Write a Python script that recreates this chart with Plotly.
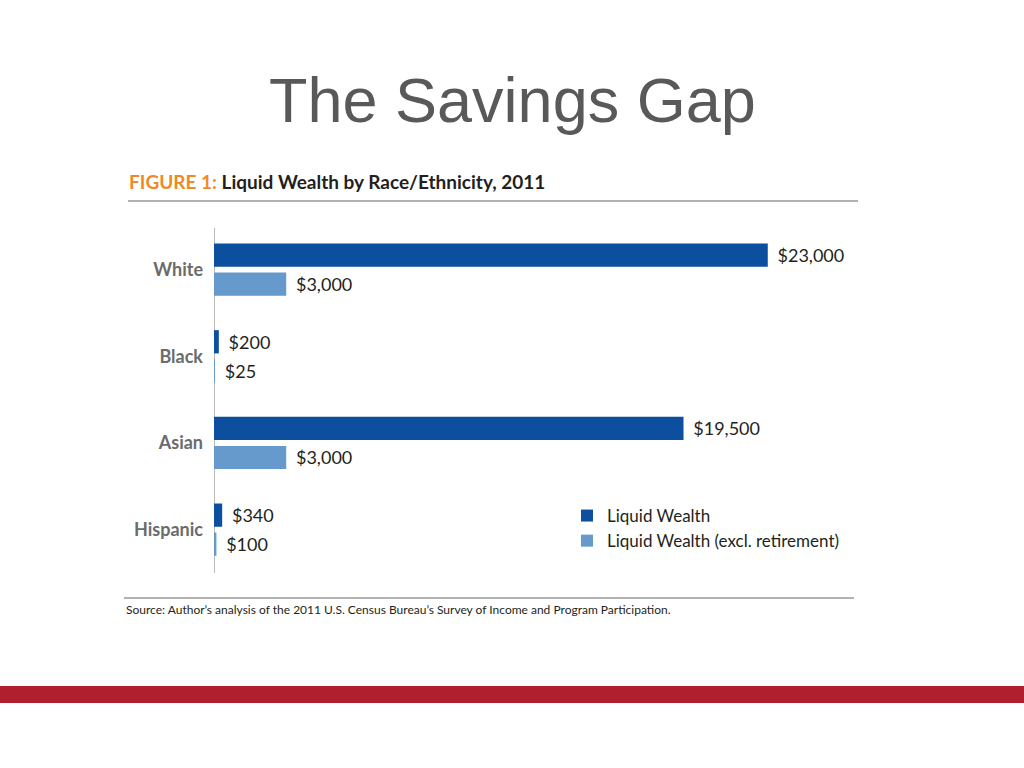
import plotly.graph_objects as go

categories = ["White", "Black", "Asian", "Hispanic"]
liquid_wealth = [23000, 200, 19500, 340]
liquid_wealth_excl = [3000, 25, 3000, 100]
series_names = ["Liquid Wealth", "Liquid Wealth (excl. retirement)"]
labels_lw = ["$23,000", "$200", "$19,500", "$340"]
labels_excl = ["$3,000", "$25", "$3,000", "$100"]

W, H = 1024, 768
L, R, T, B = 214, 840, 228, 573  # plot area in pixels

def px(x):
    return (x - L) / (R - L)

def py(y):
    return (B - y) / (B - T)

DARK = "#0B4F9E"
LIGHT = "#6699CC"
FONT = "Lato, 'Open Sans', sans-serif"
PAD = "\u2009\u2009\u2009"

fig = go.Figure()
fig.add_trace(go.Bar(
    y=categories, x=liquid_wealth, orientation="h", name=series_names[0],
    marker=dict(color=DARK, line=dict(width=0)),
    text=[PAD + t for t in labels_lw], textposition="outside",
    textfont=dict(family=FONT, size=18, color="#231F20"),
    constraintext="none", cliponaxis=False, hoverinfo="skip",
))
fig.add_trace(go.Bar(
    y=categories, x=liquid_wealth_excl, orientation="h", name=series_names[1],
    marker=dict(color=LIGHT, line=dict(width=0)),
    text=[PAD + t for t in labels_excl], textposition="outside",
    textfont=dict(family=FONT, size=18, color="#231F20"),
    constraintext="none", cliponaxis=False, hoverinfo="skip",
))

shapes = [
    dict(type="line", xref="paper", yref="paper", x0=px(128), x1=px(858), y0=py(201), y1=py(201),
         line=dict(color="#999999", width=1.5)),
    dict(type="line", xref="paper", yref="paper", x0=px(124), x1=px(854), y0=py(598), y1=py(598),
         line=dict(color="#999999", width=1.5)),
    dict(type="rect", xref="paper", yref="paper", x0=px(0), x1=px(W), y0=py(703), y1=py(686),
         fillcolor="#B01F2E", line=dict(width=0)),
]

annotations = [
    dict(text="The Savings Gap", xref="paper", yref="paper", x=px(512), y=py(100),
         xanchor="center", yanchor="middle", showarrow=False,
         font=dict(family="Liberation Sans, Arial, sans-serif", size=63, color="#595959")),
    dict(text="<b><span style='color:#F08A24'>FIGURE 1:</span> Liquid Wealth by Race/Ethnicity, 2011</b>",
         xref="paper", yref="paper", x=px(127), y=py(181), xanchor="left", yanchor="middle",
         showarrow=False, font=dict(family=FONT, size=19, color="#231F20")),
    dict(text="Source: Author\u2019s analysis of the 2011 U.S. Census Bureau\u2019s Survey of Income and Program Participation.",
         xref="paper", yref="paper", x=px(124), y=py(609), xanchor="left", yanchor="middle",
         showarrow=False, font=dict(family=FONT, size=12, color="#231F20")),
]

fig.update_layout(
    width=W, height=H,
    margin=dict(l=L, r=W - R, t=T, b=H - B, pad=0),
    paper_bgcolor="white", plot_bgcolor="white",
    barmode="group", bargap=0.33, bargroupgap=0.2,
    showlegend=True,
    legend=dict(x=px(567), y=py(498), xanchor="left", yanchor="top",
                font=dict(family=FONT, size=17, color="#231F20"),
                bgcolor="rgba(0,0,0,0)", tracegroupgap=0, itemwidth=30),
    shapes=shapes, annotations=annotations,
    xaxis=dict(range=[0, 26000], visible=False, fixedrange=True),
    yaxis=dict(range=[3.5, -0.48], showgrid=False, zeroline=False, showline=False,
               ticks="", ticklabelstandoff=10, fixedrange=True,
               tickfont=dict(family=FONT, size=18, color="#6b6b6b", weight="bold")),
)
fig.add_shape(type="line", xref="x", yref="paper", x0=0, x1=0, y0=0, y1=1,
              line=dict(color="#BBBBBB", width=2), layer="below")

fig.write_html("out.html", config={"displayModeBar": False},
               post_script="document.body.style.margin='0';")
